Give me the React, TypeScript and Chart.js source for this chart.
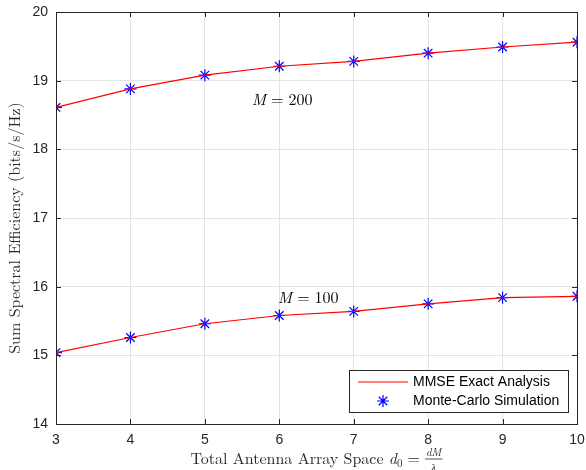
import React, { useEffect, useRef } from "react";
import { Chart, registerables } from "chart.js";

Chart.register(...registerables);

const xValues = [3, 4, 5, 6, 7, 8, 9, 10];
const seriesM200 = [18.61, 18.88, 19.08, 19.21, 19.28, 19.40, 19.49, 19.56];
const seriesM100 = [15.04, 15.26, 15.46, 15.58, 15.64, 15.75, 15.84, 15.86];
const yTicks = [14, 15, 16, 17, 18, 19, 20];
const legendLabels = ["MMSE Exact Analysis", "Monte-Carlo Simulation"];
const annotations = [
  { x: 5.63, y: 18.72, label: "200" },
  { x: 5.98, y: 15.83, label: "100" },
];

const SANS = "Helvetica, Arial, 'Liberation Sans', sans-serif";
const SERIF = "'Latin Modern Roman', 'CMU Serif', 'Liberation Serif', 'DejaVu Serif', serif";

const framePlugin = {
  id: "frame",
  afterDraw(chart: any) {
    const ctx = chart.ctx;
    const { left, right, top, bottom } = chart.chartArea;
    const xs = chart.scales.x;
    const ys = chart.scales.y;
    ctx.save();
    // frame
    ctx.strokeStyle = "#262626";
    ctx.lineWidth = 1;
    ctx.strokeRect(Math.round(left) + 0.5, Math.round(top) + 0.5, Math.round(right - left), Math.round(bottom - top));
    // inward ticks
    ctx.beginPath();
    xValues.forEach((v) => {
      const px = Math.round(xs.getPixelForValue(v)) + 0.5;
      ctx.moveTo(px, bottom);
      ctx.lineTo(px, bottom - 5);
      ctx.moveTo(px, top);
      ctx.lineTo(px, top + 5);
    });
    yTicks.forEach((v) => {
      const py = Math.round(ys.getPixelForValue(v)) + 0.5;
      ctx.moveTo(left, py);
      ctx.lineTo(left + 5, py);
      ctx.moveTo(right, py);
      ctx.lineTo(right - 5, py);
    });
    ctx.stroke();

    // annotations
    ctx.fillStyle = "#000";
    ctx.textBaseline = "middle";
    annotations.forEach((a) => {
      let px = xs.getPixelForValue(a.x);
      const py = ys.getPixelForValue(a.y);
      ctx.font = `italic 16px ${SERIF}`;
      ctx.textAlign = "left";
      ctx.fillText("M", px, py);
      px += ctx.measureText("M").width + 5;
      ctx.font = `16px ${SERIF}`;
      ctx.fillText("=", px, py);
      px += ctx.measureText("=").width + 5;
      ctx.fillText(a.label, px, py);
    });

    // legend
    const lx = 349, ly = 370, lw = 219, lh = 42;
    ctx.fillStyle = "#fff";
    ctx.fillRect(lx, ly, lw, lh);
    ctx.strokeStyle = "#262626";
    ctx.lineWidth = 1;
    ctx.strokeRect(lx + 0.5, ly + 0.5, lw, lh);
    ctx.strokeStyle = "#ff0000";
    ctx.beginPath();
    ctx.moveTo(358, 382);
    ctx.lineTo(408, 382);
    ctx.stroke();
    // star marker
    ctx.strokeStyle = "#0000ff";
    ctx.lineWidth = 1.2;
    const cx = 383, cy = 401, r = 6;
    ctx.beginPath();
    for (let k = 0; k < 4; k++) {
      const ang = (k * Math.PI) / 4;
      ctx.moveTo(cx - r * Math.cos(ang), cy - r * Math.sin(ang));
      ctx.lineTo(cx + r * Math.cos(ang), cy + r * Math.sin(ang));
    }
    ctx.stroke();
    ctx.fillStyle = "#000";
    ctx.font = `14px ${SANS}`;
    ctx.textAlign = "left";
    ctx.textBaseline = "middle";
    ctx.fillText(legendLabels[0], 413, 382);
    ctx.fillText(legendLabels[1], 413, 401);

    // y title
    ctx.save();
    ctx.translate(15, 228);
    ctx.rotate(-Math.PI / 2);
    ctx.font = `16px ${SERIF}`;
    ctx.textAlign = "center";
    ctx.textBaseline = "middle";
    ctx.fillStyle = "#262626";
    ctx.fillText("Sum Spectral Efficiency (bits/s/Hz)", 0, 0);
    ctx.restore();

    // x title with fraction
    const base = 464;
    ctx.fillStyle = "#262626";
    ctx.textBaseline = "alphabetic";
    ctx.textAlign = "left";
    const part1 = "Total Antenna Array Space ";
    ctx.font = `16px ${SERIF}`;
    const w1 = ctx.measureText(part1).width;
    const weq = ctx.measureText("=").width;
    ctx.font = `italic 16px ${SERIF}`;
    const wd = ctx.measureText("d").width;
    ctx.font = `11px ${SERIF}`;
    const w0 = ctx.measureText("0").width;
    ctx.font = `italic 11px ${SERIF}`;
    const wfrac = ctx.measureText("dM").width + 2;
    const gap = 5;
    const total = w1 + wd + w0 + gap + weq + gap + wfrac;
    let x0 = (left + right) / 2 - total / 2;
    ctx.font = `16px ${SERIF}`;
    ctx.fillText(part1, x0, base);
    x0 += w1;
    ctx.font = `italic 16px ${SERIF}`;
    ctx.fillText("d", x0, base);
    x0 += wd;
    ctx.font = `11px ${SERIF}`;
    ctx.fillText("0", x0, base + 3);
    x0 += w0 + gap;
    ctx.font = `16px ${SERIF}`;
    ctx.fillText("=", x0, base);
    x0 += weq + gap;
    ctx.font = `italic 11px ${SERIF}`;
    ctx.textAlign = "center";
    ctx.fillText("dM", x0 + wfrac / 2, base - 8);
    ctx.fillText("λ", x0 + wfrac / 2, base + 7);
    ctx.lineWidth = 0.8;
    ctx.strokeStyle = "#262626";
    ctx.beginPath();
    ctx.moveTo(x0, base - 5);
    ctx.lineTo(x0 + wfrac, base - 5);
    ctx.stroke();
    ctx.restore();
  },
};

export default function App() {
  const ref = useRef<HTMLCanvasElement>(null);
  useEffect(() => {
    if (!ref.current) return;
    const chart = new Chart(ref.current, {
      type: "line",
      data: {
        datasets: [
          {
            label: legendLabels[0],
            data: xValues.map((x, i) => ({ x, y: seriesM200[i] })),
            borderColor: "#ff0000",
            borderWidth: 1.2,
            pointRadius: 0,
            fill: false,
          },
          {
            label: legendLabels[0] + " 100",
            data: xValues.map((x, i) => ({ x, y: seriesM100[i] })),
            borderColor: "#ff0000",
            borderWidth: 1.2,
            pointRadius: 0,
            fill: false,
          },
          {
            label: legendLabels[1],
            data: xValues.map((x, i) => ({ x, y: seriesM200[i] })),
            showLine: false,
            pointStyle: "star",
            pointRadius: 6,
            pointBorderColor: "#0000ff",
            pointBorderWidth: 1.2,
            pointBackgroundColor: "#0000ff",
          },
          {
            label: legendLabels[1] + " 100",
            data: xValues.map((x, i) => ({ x, y: seriesM100[i] })),
            showLine: false,
            pointStyle: "star",
            pointRadius: 6,
            pointBorderColor: "#0000ff",
            pointBorderWidth: 1.2,
            pointBackgroundColor: "#0000ff",
          },
        ],
      },
      options: {
        animation: false,
        responsive: false,
        layout: { padding: { top: 12, right: 9, left: 0, bottom: 0 } },
        plugins: { legend: { display: false }, tooltip: { enabled: false } },
        scales: {
          x: {
            type: "linear",
            min: 3,
            max: 10,
            afterBuildTicks: (s: any) => {
              s.ticks = xValues.map((v) => ({ value: v }));
            },
            afterFit: (s: any) => {
              s.height = 46;
              s.paddingLeft = 0;
              s.paddingRight = 0;
            },
            grid: { color: "#e3e3e3", drawTicks: false },
            border: { display: false },
            ticks: { padding: 8, color: "#262626", font: { family: SANS, size: 14 }, maxRotation: 0 },
          },
          y: {
            type: "linear",
            min: 14,
            max: 20,
            afterBuildTicks: (s: any) => {
              s.ticks = yTicks.map((v) => ({ value: v }));
            },
            afterFit: (s: any) => {
              s.width = 56;
              s.paddingTop = 0;
              s.paddingBottom = 0;
            },
            grid: { color: "#e3e3e3", drawTicks: false },
            border: { display: false },
            ticks: { padding: 8, color: "#262626", font: { family: SANS, size: 14 } },
          },
        },
      },
      plugins: [framePlugin],
    } as any);
    return () => chart.destroy();
  }, []);
  return (
    <div style={{ position: "absolute", left: 0, top: 0, width: 586, height: 470, background: "#fff" }}>
      <canvas ref={ref} width={586} height={470} style={{ width: 586, height: 470 }} />
    </div>
  );
}
